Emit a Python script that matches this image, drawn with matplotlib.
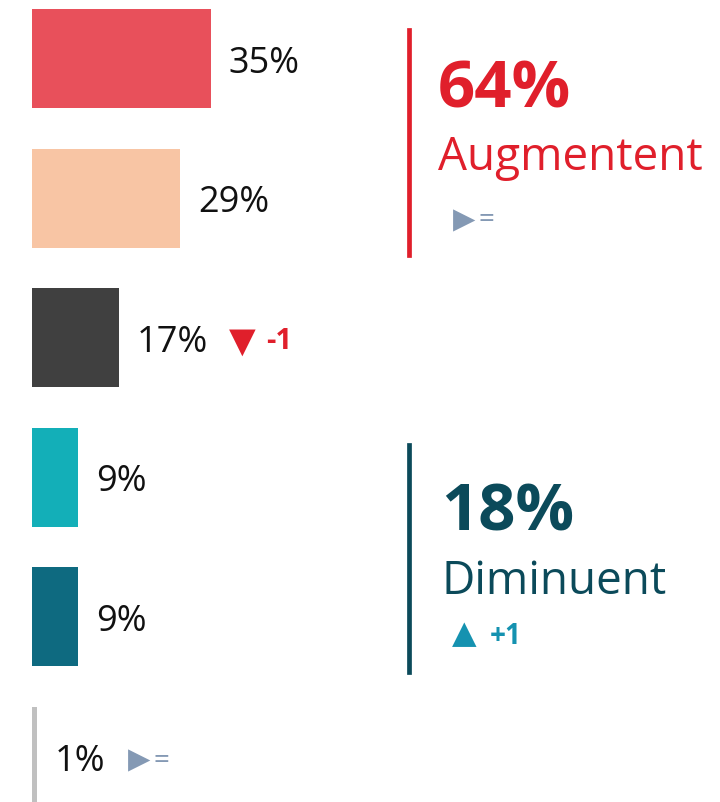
import matplotlib.pyplot as plt
from matplotlib.lines import Line2D

# bar rows, top to bottom
values = [35, 29, 17, 9, 9, 1]
labels = ["35%", "29%", "17%", "9%", "9%", "1%"]
colors = ["#E8505B", "#F8C5A4", "#404040", "#13AFB8", "#0E6A80", "#C0C0C0"]
changes = [None, None, "-1", None, None, "="]

# summary blocks on the right
group_pct = ["64%", "18%"]
group_name = ["Augmentent", "Diminuent"]
group_change = ["=", "+1"]
group_color = ["#E01F2B", "#0B4A5A"]

W, H = 720, 802
PX = 5.1        # pixels per percent
X0 = 32         # left edge of bars in px
ROW = 139.6     # row pitch in px
Y0 = 58.5       # centre of first row in px

plt.rcParams['font.family'] = ['Open Sans', 'DejaVu Sans']

fig = plt.figure(figsize=(W / 100, H / 100), dpi=100)
ax = fig.add_axes([0, 0, 1, 1])
ax.set_xlim(-X0 / PX, (W - X0) / PX)
ax.set_ylim((H - Y0) / ROW, -Y0 / ROW)
ax.axis('off')

ys = list(range(len(values)))
ax.barh(ys, values, height=99 / ROW, color=colors, left=0)

GREY = "#8499B4"
RED = "#E01F2B"
BLUE = "#1592B0"


def mark(x, y, ch, dx, dy, on_fig=False):
    # small trend marker: triangle glyph followed by the change text
    if ch == "=":
        parts = [("\u25B6", 0, 0, 21, GREY, 'normal', 'DejaVu Sans'),
                 ("=", 25, 0, 20, GREY, 'normal', None)]
    elif ch.startswith("-"):
        parts = [("\u25BC", -4, 0, 25, RED, 'normal', 'DejaVu Sans'),
                 (ch, 33, 0, 21, RED, 'bold', None)]
    else:
        parts = [("\u25B2", -1, 1, 23, BLUE, 'normal', 'DejaVu Sans'),
                 (ch, 37, 0, 20, BLUE, 'bold', None)]
    for txt, ox, oy, fs, col, wt, fam in parts:
        kw = dict(fontsize=fs, color=col, weight=wt, va='center', ha='left')
        if fam:
            kw['family'] = fam
        if on_fig:
            fig.text((x + dx + ox) / W, 1 - (y + dy - oy) / H, txt, **kw)
        else:
            ax.annotate(txt, (x, y), xytext=(dx + ox, dy + oy),
                        textcoords='offset pixels', **kw)


for y, v, lab, ch in zip(ys, values, labels, changes):
    ax.annotate(lab, (v, y), xytext=(18, -5), textcoords='offset pixels',
                fontsize=26, color="#111111", va='center', ha='left')
    if ch is not None:
        dx = 18 + (len(lab) - 1) * 23 + 50
        mark(v, y, ch, dx, -4)

# right-hand summary blocks
line_span = [(30, 255), (445, 672)]
text_x = [438, 441]
pct_y = [91, 514]
name_y = [158, 582]
chg_y = [220, 636]
for (t, b), tx, py, ny, cy, pct, name, ch, col in zip(line_span, text_x, pct_y, name_y,
                                                       chg_y, group_pct, group_name,
                                                       group_change, group_color):
    fig.add_artist(Line2D([409 / W, 409 / W], [1 - t / H, 1 - b / H], color=col, lw=3.4))
    fig.text(tx / W, 1 - py / H, pct, fontsize=47, weight='bold',
             color=col, va='center', ha='left')
    fig.text(tx / W, 1 - ny / H, name, fontsize=33,
             color=col, va='center', ha='left')
    mark(453, cy, ch, 0, 0, on_fig=True)

fig.savefig("out.png", dpi=100)
